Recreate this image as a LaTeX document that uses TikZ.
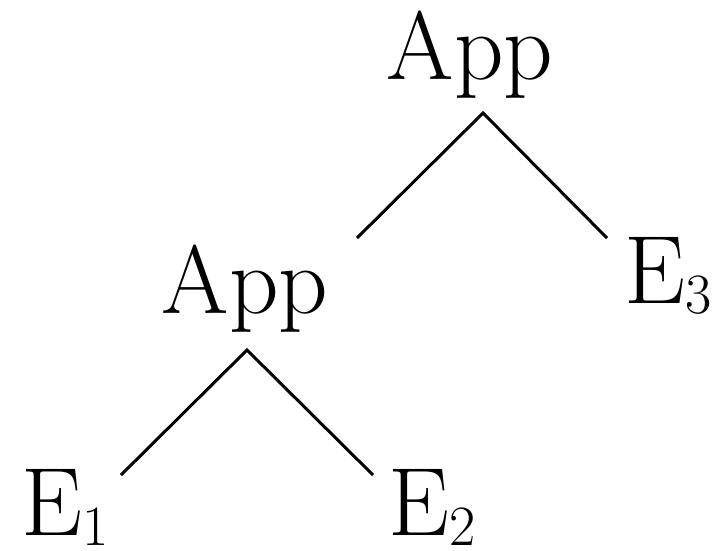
\documentclass[tikz,border=0pt]{standalone}
\usepackage{fontspec}
\setmainfont{Latin Modern Roman}
\newcommand{\mysub}[1]{\raisebox{-10pt}{\fontsize{57}{60}\selectfont #1}}
\begin{document}
\begin{tikzpicture}[x=1pt,y=-1pt,
  lbl/.style={inner sep=0pt,anchor=base,font=\fontsize{97}{100}\selectfont},
  edge/.style={line width=3pt}]
\useasboundingbox (0,0) rectangle (727,550);
\node[lbl] (app1) at (470,79) {App};
\node[lbl] (app2) at (245,313) {App};
\node[lbl,anchor=base west] (e1) at (21,535) {E\mysub{1}};
\node[lbl,anchor=base west] (e2) at (388,535) {E\mysub{2}};
\node[lbl,anchor=base west] (e3) at (624,303) {E\mysub{3}};
\coordinate (t1) at (483,113);
\coordinate (l1) at (357,238);
\coordinate (r1) at (607,238);
\coordinate (t2) at (247,350);
\coordinate (l2) at (121,475);
\coordinate (r2) at (373,475);
\draw[edge] (l1) -- (t1) -- (r1);
\draw[edge] (l2) -- (t2) -- (r2);
\end{tikzpicture}
\end{document}
